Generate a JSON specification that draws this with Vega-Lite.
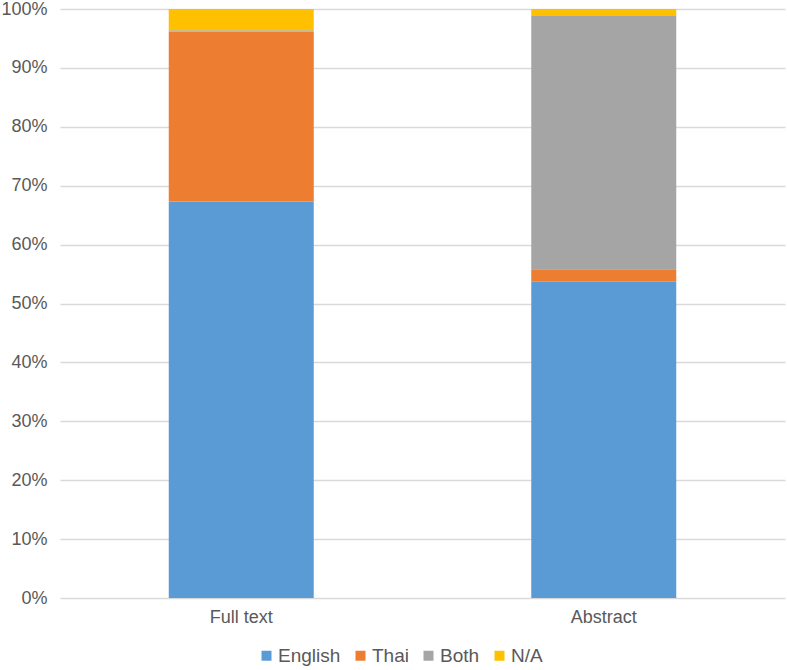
{
  "$schema": "https://vega.github.io/schema/vega-lite/v6.json",
  "width": 725,
  "height": 589,
  "autosize": {"type": "none"},
  "padding": {"left": 60, "top": 9, "right": 2, "bottom": 72},
  "background": "white",
  "config": {
    "view": {"stroke": null},
    "font": "Liberation Sans"
  },
  "data": {
    "values": [
      {"doc": "Full text", "lang": "English", "k": 1, "pct": 67.3},
      {"doc": "Full text", "lang": "Thai", "k": 2, "pct": 28.9},
      {"doc": "Full text", "lang": "Both", "k": 3, "pct": 0.2},
      {"doc": "Full text", "lang": "N/A", "k": 4, "pct": 3.6},
      {"doc": "Abstract", "lang": "English", "k": 1, "pct": 53.7},
      {"doc": "Abstract", "lang": "Thai", "k": 2, "pct": 2.1},
      {"doc": "Abstract", "lang": "Both", "k": 3, "pct": 43.0},
      {"doc": "Abstract", "lang": "N/A", "k": 4, "pct": 1.2}
    ]
  },
  "mark": {"type": "bar"},
  "encoding": {
    "x": {
      "field": "doc",
      "type": "nominal",
      "sort": ["Full text", "Abstract"],
      "scale": {"paddingInner": 0.6, "paddingOuter": 0.3},
      "axis": {
        "title": null,
        "labelAngle": 0,
        "labelFontSize": 18,
        "labelColor": "#595959",
        "ticks": false,
        "domain": false,
        "labelPadding": 10
      }
    },
    "y": {
      "field": "pct",
      "type": "quantitative",
      "stack": "zero",
      "scale": {"domain": [0, 100]},
      "axis": {
        "title": null,
        "values": [0, 10, 20, 30, 40, 50, 60, 70, 80, 90, 100],
        "labelExpr": "datum.value + '%'",
        "labelFontSize": 18,
        "labelColor": "#595959",
        "ticks": false,
        "domain": false,
        "labelPadding": 13,
        "gridColor": "#d9d9d9",
        "gridWidth": 1.3
      }
    },
    "color": {
      "field": "lang",
      "type": "nominal",
      "scale": {
        "domain": ["English", "Thai", "Both", "N/A"],
        "range": ["#5B9BD5", "#ED7D31", "#A5A5A5", "#FFC000"]
      },
      "legend": {
        "title": null,
        "orient": "none",
        "direction": "horizontal",
        "legendX": 197,
        "legendY": 637,
        "symbolType": "square",
        "symbolSize": 100,
        "labelFontSize": 19,
        "labelColor": "#595959",
        "columnPadding": 10,
        "labelOffset": 2
      }
    },
    "order": {"field": "k", "type": "quantitative", "sort": "ascending"}
  }
}
